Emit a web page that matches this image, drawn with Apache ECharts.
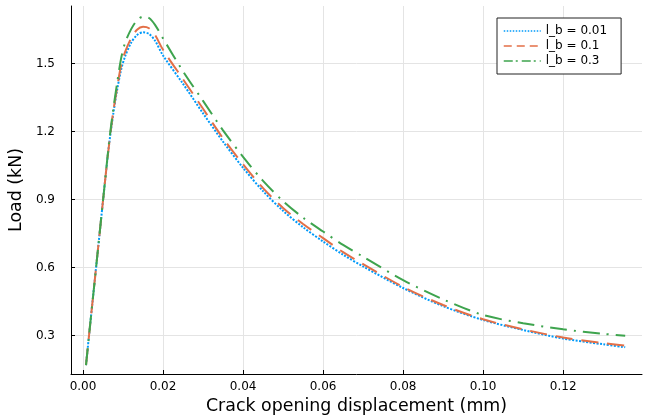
<!DOCTYPE html>
<html>
<head>
<meta charset="utf-8">
<script src="https://cdn.jsdelivr.net/npm/echarts@6/dist/echarts.min.js"></script>
<style>
  html, body { margin: 0; padding: 0; background: #fff; }
  #chart { width: 652px; height: 420px; }
</style>
</head>
<body>
<div id="chart"></div>
<script>
// crack opening displacement (mm), shared by all curves
const cod = [0.00075, 0.0015, 0.0025, 0.0035, 0.0045, 0.0055, 0.0065, 0.0075, 0.0085, 0.0095,
  0.0105, 0.012, 0.0135, 0.015, 0.0165, 0.018, 0.02, 0.025, 0.03, 0.035, 0.04, 0.045, 0.05,
  0.055, 0.06, 0.065, 0.07, 0.08, 0.09, 0.10, 0.11, 0.12, 0.13, 0.1355];

// load (kN)
const load_001 = [0.17, 0.30, 0.47, 0.64, 0.81, 0.98, 1.14, 1.27, 1.38, 1.47,
  1.53, 1.59, 1.625, 1.637, 1.63, 1.60, 1.535, 1.41, 1.28, 1.155, 1.04, 0.937, 0.85,
  0.778, 0.715, 0.657, 0.605, 0.51, 0.43, 0.369, 0.325, 0.287, 0.262, 0.249];
const load_01 = [0.17, 0.30, 0.47, 0.64, 0.81, 0.98, 1.14, 1.28, 1.39, 1.49,
  1.55, 1.61, 1.648, 1.661, 1.655, 1.625, 1.56, 1.43, 1.30, 1.17, 1.055, 0.95, 0.863,
  0.792, 0.73, 0.668, 0.615, 0.515, 0.435, 0.372, 0.328, 0.292, 0.267, 0.256];
const load_03 = [0.17, 0.30, 0.47, 0.64, 0.81, 0.98, 1.15, 1.29, 1.41, 1.52,
  1.59, 1.65, 1.69, 1.706, 1.70, 1.67, 1.61, 1.465, 1.335, 1.205, 1.088, 0.982, 0.893,
  0.82, 0.759, 0.70, 0.648, 0.545, 0.46, 0.391, 0.355, 0.328, 0.308, 0.30];

const names = ["l_b = 0.01", "l_b = 0.1", "l_b = 0.3"];
const xTicks = [0, 0.02, 0.04, 0.06, 0.08, 0.10, 0.12];
const yTicks = [0.3, 0.6, 0.9, 1.2, 1.5];

const colors = ["#009AFA", "#E36F47", "#3EA44E"];
const dashes = [[2, 1.5], [17, 9], [17, 7, 2, 7]];
const legendDashes = [[1.5, 1.5], [8, 5], [9, 3, 2, 4]];
const font = "DejaVu Sans";

function pairs(ys) {
  return cod.map((x, i) => [x, ys[i]]);
}

function setChart() {
  const myChart = echarts.init(document.getElementById("chart"), null, { renderer: "canvas" });
  const allLoads = [load_001, load_01, load_03];
  const option = {
    animation: false,
    backgroundColor: "#fff",
    grid: { left: 71, right: 10, top: 6, bottom: 46, containLabel: false },
    legend: {
      orient: "vertical",
      left: 497,
      top: 18,
      padding: [7, 14, 7, 6],
      itemGap: 3,
      itemWidth: 37,
      itemHeight: 14,
      borderColor: "#222",
      borderWidth: 1,
      backgroundColor: "#fff",
      textStyle: { fontFamily: font, fontSize: 12, color: "#000" },
      data: names.map((n, i) => ({
        name: n,
        itemStyle: { opacity: 0 },
        lineStyle: { type: legendDashes[i], width: 1.5, color: colors[i] },
      })),
    },
    xAxis: {
      type: "value",
      min: -0.003,
      max: 0.1397,
      name: "Crack opening displacement (mm)",
      nameLocation: "middle",
      nameGap: 19,
      nameTextStyle: { fontFamily: font, fontSize: 17.4, color: "#000" },
      axisLine: { show: true, onZero: false, lineStyle: { color: "#000", width: 1 } },
      axisTick: { show: true, inside: true, length: 4, customValues: xTicks, lineStyle: { color: "#000" } },
      axisLabel: {
        customValues: xTicks,
        margin: 7,
        fontFamily: font,
        fontSize: 12,
        color: "#000",
        formatter: (v) => v.toFixed(2),
      },
      splitLine: { show: true, lineStyle: { color: "#e4e4e4", width: 1 } },
    },
    yAxis: {
      type: "value",
      min: 0.131,
      max: 1.753,
      name: "Load (kN)",
      nameLocation: "middle",
      nameGap: 33,
      nameRotate: 90,
      nameTextStyle: { fontFamily: font, fontSize: 17.4, color: "#000" },
      axisLine: { show: true, onZero: false, lineStyle: { color: "#000", width: 1 } },
      axisTick: { show: true, inside: true, length: 4, customValues: yTicks, lineStyle: { color: "#000" } },
      axisLabel: {
        customValues: yTicks,
        margin: 16,
        fontFamily: font,
        fontSize: 12,
        color: "#000",
        formatter: (v) => v.toFixed(1),
      },
      splitLine: { show: true, lineStyle: { color: "#e4e4e4", width: 1 } },
    },
    series: allLoads.map((ys, i) => ({
      name: names[i],
      type: "line",
      data: pairs(ys),
      symbol: "none",
      smooth: 0.3,
      color: colors[i],
      lineStyle: { width: 2, type: dashes[i], color: colors[i] },
    })),
  };
  myChart.setOption(option);
}
setChart();
</script>
</body>
</html>
